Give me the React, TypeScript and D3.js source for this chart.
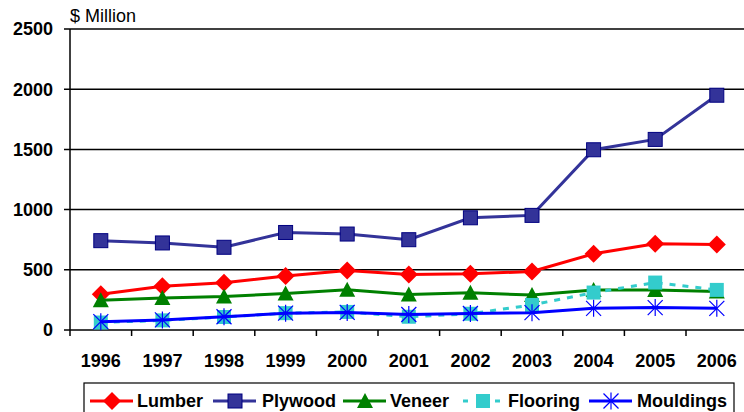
import React from 'react';
import * as d3 from 'd3';

const years = ['1996', '1997', '1998', '1999', '2000', '2001', '2002', '2003', '2004', '2005', '2006'];
const lumber = [297, 363, 393, 448, 495, 462, 467, 486, 633, 716, 710];
const plywood = [742, 723, 687, 810, 797, 750, 932, 952, 1497, 1583, 1950];
const veneer = [247, 266, 278, 303, 335, 294, 310, 290, 333, 333, 320];
const flooring = [62, 80, 108, 140, 150, 110, 135, 208, 311, 394, 333];
const mouldings = [69, 84, 110, 140, 146, 129, 137, 144, 180, 186, 180];
const yTicks = [0, 500, 1000, 1500, 2000, 2500];

const series = [
  { name: 'Lumber', values: lumber, color: '#ff0000', marker: 'diamond', dash: '' },
  { name: 'Plywood', values: plywood, color: '#333399', marker: 'square', dash: '' },
  { name: 'Veneer', values: veneer, color: '#008000', marker: 'triangle', dash: '' },
  { name: 'Flooring', values: flooring, color: '#33cccc', marker: 'fsquare', dash: '6,7' },
  { name: 'Mouldings', values: mouldings, color: '#0000ff', marker: 'star', dash: '' },
];

const font = 'Liberation Sans, Arial, sans-serif';

const Marker = ({ type, x, y, color }: { type: string; x: number; y: number; color: string }) => {
  if (type === 'diamond') {
    const r = 9;
    return <path d={`M${x},${y - r}L${x + r},${y}L${x},${y + r}L${x - r},${y}Z`} fill={color} />;
  }
  if (type === 'square') {
    return <rect x={x - 7} y={y - 7} width={14} height={14} fill={color} stroke="#000080" strokeWidth={1} />;
  }
  if (type === 'fsquare') {
    return <rect x={x - 7} y={y - 7} width={14} height={14} fill={color} />;
  }
  if (type === 'triangle') {
    return <path d={`M${x},${y - 8}L${x + 8},${y + 7}L${x - 8},${y + 7}Z`} fill={color} />;
  }
  const r = 7.5;
  return (
    <g stroke={color} strokeWidth={1.2}>
      <line x1={x - r} y1={y - r} x2={x + r} y2={y + r} />
      <line x1={x - r} y1={y + r} x2={x + r} y2={y - r} />
      <line x1={x} y1={y - r - 1} x2={x} y2={y + r + 1} />
    </g>
  );
};

const App: React.FC = () => {
  const left = 70;
  const x = d3.scaleBand().domain(years).range([left, left + 11 * 61.6]);
  const y = d3.scaleLinear().domain([0, 2500]).range([330, 29]);
  const cx = (d: string) => (x(d) || 0) + x.bandwidth() / 2;

  const line = d3.line<number>()
    .x((_, i) => cx(years[i]))
    .y(d => y(d));

  const legendItems = [
    { lx: 90, tx: 137 },
    { lx: 213, tx: 262 },
    { lx: 343, tx: 390 },
    { lx: 463, tx: 508 },
    { lx: 589, tx: 637 },
  ];

  return (
    <svg width={744} height={412} style={{ position: 'absolute', left: 0, top: 0, background: '#fff' }}>
      <rect width={744} height={412} fill="#fff" />
      <text x={left} y={22} fontFamily={font} fontSize={18}>$ Million</text>
      {yTicks.map(t => (
        <g key={t}>
          <line x1={64} x2={744} y1={y(t)} y2={y(t)} stroke="#000" strokeWidth={1.5} />
          <text x={53} y={y(t)} dy="0.35em" textAnchor="end" fontFamily={font} fontSize={18} fontWeight="bold">{t}</text>
        </g>
      ))}
      <line x1={left} x2={left} y1={y(2500)} y2={y(0)} stroke="#000" strokeWidth={1.5} />
      {years.map(d => (
        <g key={d}>
          <line x1={x(d)} x2={x(d)} y1={y(0)} y2={y(0) + 6} stroke="#000" strokeWidth={1.5} />
          <text x={cx(d)} y={367} textAnchor="middle" fontFamily={font} fontSize={18} fontWeight="bold">{d}</text>
        </g>
      ))}
      {series.map(s => (
        <g key={s.name}>
          <path d={line(s.values) || ''} fill="none" stroke={s.color} strokeWidth={3} strokeDasharray={s.dash} />
          {s.values.map((v, i) => (
            <Marker key={i} type={s.marker} x={cx(years[i])} y={y(v)} color={s.color} />
          ))}
        </g>
      ))}
      <rect x={84} y={383} width={650} height={40} fill="#fff" stroke="#000" strokeWidth={1.2} />
      {series.map((s, i) => {
        const it = legendItems[i];
        const ly = 401;
        return (
          <g key={s.name}>
            {s.dash ? (
              <g stroke={s.color} strokeWidth={3}>
                <line x1={it.lx} x2={it.lx + 5} y1={ly} y2={ly} />
                <line x1={it.lx + 32} x2={it.lx + 37} y1={ly} y2={ly} />
              </g>
            ) : (
              <line x1={it.lx} x2={it.lx + 43} y1={ly} y2={ly} stroke={s.color} strokeWidth={3} />
            )}
            <Marker type={s.marker} x={s.dash ? it.lx + 20 : it.lx + 22} y={ly} color={s.color} />
            <text x={it.tx} y={ly} dy="0.35em" fontFamily={font} fontSize={18} fontWeight="bold">{s.name}</text>
          </g>
        );
      })}
    </svg>
  );
};

export default App;
